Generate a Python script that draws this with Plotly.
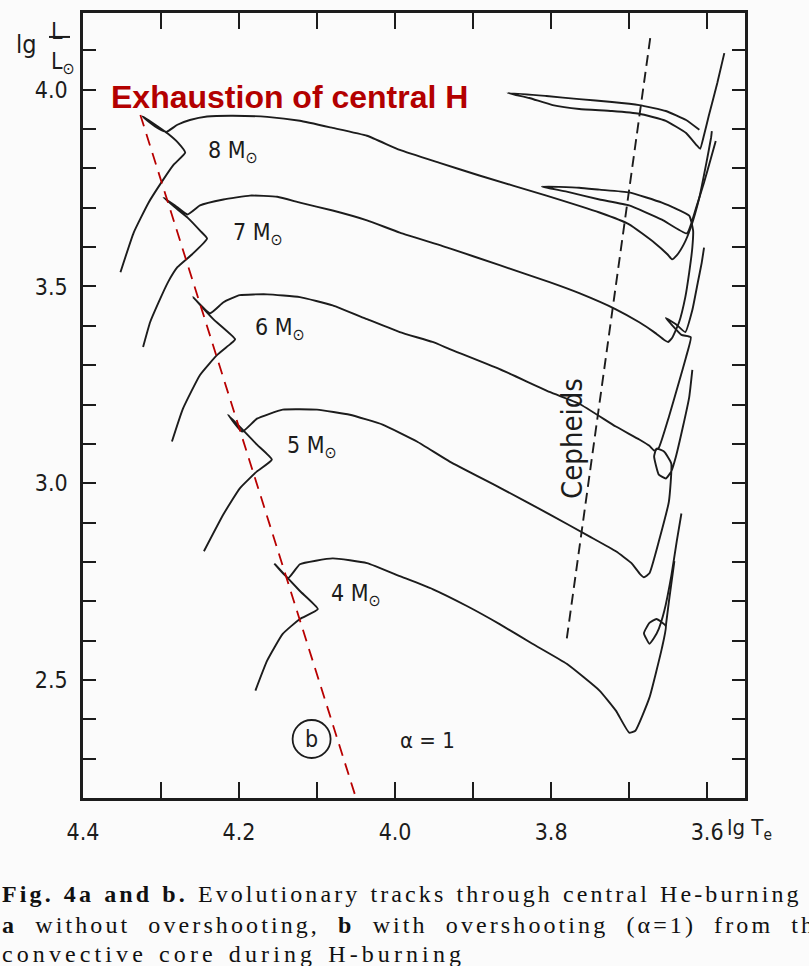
import plotly.graph_objects as go

N = None
# ---- evolutionary tracks (lg Te, lg L/Lsun); None separates drawn pieces ----
t8 = [4.352, 4.335, 4.316, 4.298, 4.284, 4.269, 4.278, 4.291, 4.305, 4.324, 4.314, 4.303, 4.293, 4.279, 4.263,
      4.241, 4.208, 4.164, 4.122, 4.080, 4.036, 3.994, 3.943, 3.892, 3.806, 3.738, 3.700, 3.668, 3.651, 3.645,
      3.639, 3.630, 3.621, 3.610, 3.601, 3.595, 3.594, N,
      3.610, 3.627, 3.653, 3.687, 3.722, 3.764, 3.806, 3.856, 3.828, 3.798, 3.764, 3.722, 3.687, 3.653, 3.627,
      3.614, 3.609, 3.604, 3.598, 3.587, 3.578]
l8 = [3.536, 3.637, 3.713, 3.769, 3.809, 3.840, 3.865, 3.888, 3.908, 3.933, 3.916, 3.901, 3.893, 3.911, 3.923,
      3.932, 3.934, 3.931, 3.921, 3.903, 3.883, 3.847, 3.814, 3.782, 3.731, 3.688, 3.658, 3.612, 3.582, 3.569,
      3.579, 3.607, 3.650, 3.726, 3.814, 3.878, 3.895, N,
      3.898, 3.923, 3.946, 3.961, 3.969, 3.976, 3.984, 3.992, 3.979, 3.961, 3.951, 3.946, 3.939, 3.921, 3.890,
      3.860, 3.850, 3.885, 3.933, 4.017, 4.093]

t7 = [4.323, 4.314, 4.303, 4.291, 4.279, 4.260, 4.241, 4.250, 4.266, 4.282, 4.297, 4.282, 4.266, 4.250, 4.220,
      4.186, 4.151, 4.122, 4.080, 4.036, 3.994, 3.930, 3.866, 3.802, 3.764, 3.717, 3.687, 3.668, 3.655, 3.650,
      3.645, 3.636, 3.628, 3.623, 3.619, 3.618, 3.623, 3.658, 3.700, 3.738, 3.764, 3.812, 3.780, 3.738, 3.700,
      3.658, 3.626, 3.614, 3.604, 3.595, 3.589]
l7 = [3.346, 3.409, 3.460, 3.511, 3.549, 3.582, 3.622, 3.642, 3.675, 3.701, 3.726, 3.706, 3.683, 3.706, 3.721,
      3.731, 3.728, 3.713, 3.693, 3.668, 3.637, 3.597, 3.554, 3.511, 3.483, 3.442, 3.409, 3.384, 3.364, 3.359,
      3.369, 3.409, 3.473, 3.536, 3.599, 3.642, 3.680, 3.713, 3.739, 3.746, 3.751, 3.754, 3.741, 3.721, 3.706,
      3.670, 3.635, 3.701, 3.764, 3.827, 3.870]

t6 = [4.286, 4.272, 4.250, 4.228, 4.211, 4.205, 4.233, 4.259, 4.237, 4.220, 4.199, 4.164, 4.122, 4.080, 4.036,
      3.994, 3.952, 3.930, 3.866, 3.802, 3.764, 3.717, 3.687, 3.674, 3.668, 3.662, 3.649, 3.636, 3.627, 3.621,
      3.633, 3.646, 3.653, 3.640, 3.628, 3.619, 3.612, 3.607, 3.604]
l6 = [3.106, 3.189, 3.275, 3.326, 3.354, 3.366, 3.417, 3.473, 3.432, 3.460, 3.478, 3.480, 3.473, 3.452, 3.417,
      3.384, 3.359, 3.341, 3.290, 3.232, 3.202, 3.144, 3.111, 3.095, 3.083, 3.090, 3.169, 3.258, 3.321, 3.371,
      3.377, 3.404, 3.420, 3.404, 3.384, 3.440, 3.510, 3.560, 3.599]

t5 = [4.245, 4.220, 4.199, 4.177, 4.158, 4.177, 4.214, 4.196, 4.177, 4.144, 4.100, 4.058, 4.016, 3.972, 3.930,
      3.866, 3.802, 3.751, 3.717, 3.697, 3.686, 3.681, 3.674, 3.662, 3.649, 3.646, 3.655, 3.665, 3.668, 3.662,
      3.653, 3.646, 3.640, 3.631, 3.623, 3.619]
l5 = [2.827, 2.921, 2.987, 3.030, 3.060, 3.098, 3.174, 3.131, 3.164, 3.187, 3.187, 3.174, 3.149, 3.106, 3.055,
      2.989, 2.921, 2.865, 2.827, 2.797, 2.769, 2.761, 2.771, 2.852, 2.954, 3.050, 3.080, 3.088, 3.068, 3.022,
      3.012, 3.030, 3.068, 3.144, 3.219, 3.288]

t4 = [4.179, 4.164, 4.144, 4.122, 4.099, 4.122, 4.154, 4.137, 4.122, 4.080, 4.036, 3.994, 3.952, 3.908, 3.866,
      3.824, 3.780, 3.738, 3.717, 3.700, 3.692, 3.674, 3.658, 3.653, 3.665, 3.674, 3.681, 3.674, 3.668, 3.662,
      3.655, 3.646, 3.639, 3.633, N, 3.653, 3.649, 3.642]
l4 = [2.473, 2.549, 2.617, 2.655, 2.680, 2.726, 2.794, 2.759, 2.794, 2.809, 2.797, 2.764, 2.731, 2.688, 2.642,
      2.592, 2.541, 2.473, 2.422, 2.366, 2.371, 2.455, 2.581, 2.637, 2.655, 2.645, 2.619, 2.592, 2.607, 2.630,
      2.675, 2.764, 2.852, 2.923, N, 2.637, 2.700, 2.802]

tracks = [(t8, l8), (t7, l7), (t6, l6), (t5, l5), (t4, l4)]

# ---- lines ----
ceph_t = [3.673, 3.780]
ceph_l = [4.131, 2.604]
hexh_t = [4.3265, 4.048]
hexh_l = [3.936, 2.187]

# ---- labels ----
mass_labels = ["8 M<sub>⊙</sub>", "7 M<sub>⊙</sub>", "6 M<sub>⊙</sub>", "5 M<sub>⊙</sub>", "4 M<sub>⊙</sub>"]
mass_t = [4.208, 4.176, 4.148, 4.106, 4.050]
mass_l = [3.842, 3.634, 3.391, 3.092, 2.715]

x_ticks = [4.4, 4.3, 4.2, 4.1, 4.0, 3.9, 3.8, 3.7, 3.6]
x_text = ["4.4", "", "4.2", "", "4.0", "", "3.8", "", "3.6"]
y_ticks = [2.3, 2.4, 2.5, 2.6, 2.7, 2.8, 2.9, 3.0, 3.1, 3.2, 3.3, 3.4, 3.5, 3.6, 3.7, 3.8, 3.9, 4.0, 4.1]
y_text = ["", "", "2.5", "", "", "", "", "3.0", "", "", "", "", "3.5", "", "", "", "", "4.0", ""]

caption = [
    "<b>Fig. 4a and b.</b> Evolutionary tracks through central He-burning",
    "<b>a</b> without overshooting, <b>b</b> with overshooting (α=1) from the",
    "convective core during H-burning",
]
caption_style = [
    "letter-spacing:3.1px;word-spacing:1px",
    "letter-spacing:3.1px;word-spacing:9px",
    "letter-spacing:4.1px;word-spacing:2px",
]

INK = "#1c1c1c"
DIN = "DejaVu Sans Condensed, Roboto Condensed, Roboto, sans-serif"

fig = go.Figure()
for t, l in tracks:
    fig.add_trace(go.Scatter(x=t, y=l, mode="lines", line=dict(color=INK, width=1.9, shape="spline", smoothing=0.4),
                             hoverinfo="skip", showlegend=False))
fig.add_trace(go.Scatter(x=ceph_t, y=ceph_l, mode="lines", line=dict(color=INK, width=1.9, dash="11px,6px"),
                         showlegend=False))
fig.add_trace(go.Scatter(x=hexh_t, y=hexh_l, mode="lines", line=dict(color="#b80000", width=1.8, dash="12px,8px"),
                         showlegend=False, cliponaxis=False))

ann = []
for txt, t, l in zip(mass_labels, mass_t, mass_l):
    ann.append(dict(x=t, y=l, text=txt, showarrow=False, xanchor="center", yanchor="middle",
                    font=dict(family=DIN, size=23, color=INK)))
ann.append(dict(x=4.135, y=3.981, text="<b>Exhaustion of central H</b>", showarrow=False,
                xanchor="center", yanchor="middle",
                font=dict(family="Liberation Sans, Arial", size=32, color="#b30000")))
ann.append(dict(x=3.773, y=3.113, text="Cepheids", textangle=-90, showarrow=False,
                xanchor="center", yanchor="middle", font=dict(family=DIN, size=29, color=INK)))
ann.append(dict(x=4.107, y=2.350, text="b", showarrow=False, xanchor="center", yanchor="middle",
                font=dict(family=DIN, size=23, color=INK)))
ann.append(dict(x=3.959, y=2.346, text="α = 1", showarrow=False, xanchor="center", yanchor="middle",
                font=dict(family=DIN, size=22, color=INK)))
# axis titles (placed in paper coordinates around the frame)
ann.append(dict(xref="paper", yref="paper", x=-0.0861, y=0.9594, text="lg", showarrow=False,
                xanchor="center", yanchor="middle", font=dict(family=DIN, size=25, color=INK)))
ann.append(dict(xref="paper", yref="paper", x=-0.0393, y=0.9772, text="L", showarrow=False,
                xanchor="center", yanchor="middle", font=dict(family=DIN, size=23, color=INK)))
ann.append(dict(xref="paper", yref="paper", x=-0.0302, y=0.9365, text="L<sub>⊙</sub>", showarrow=False,
                xanchor="center", yanchor="middle", font=dict(family=DIN, size=23, color=INK)))
ann.append(dict(xref="paper", yref="paper", x=1.007, y=-0.0406, text="lg T<sub>e</sub>", showarrow=False,
                xanchor="center", yanchor="middle", font=dict(family=DIN, size=22, color=INK)))
for i, line in enumerate(caption):
    ann.append(dict(xref="paper", yref="paper", x=-0.1254, y=[-0.1218, -0.1612, -0.1992][i], xanchor="left",
                    yanchor="middle", text='<span style="%s">%s</span>' % (caption_style[i], line),
                    showarrow=False,
                    font=dict(family="Liberation Serif, Times New Roman, serif", size=24, color="#111")))

shapes = [
    dict(type="circle", xref="x", yref="y", xsizemode="pixel", ysizemode="pixel", xanchor=4.107, yanchor=2.350,
         x0=-19, x1=19, y0=-19, y1=19, line=dict(color=INK, width=1.8)),
    dict(type="line", xref="paper", yref="paper", x0=-0.0514, x1=-0.0196, y0=0.9695, y1=0.9695,
         line=dict(color=INK, width=2)),
]

fig.update_layout(
    width=809, height=966, margin=dict(l=83, r=64, t=10, b=168),
    paper_bgcolor="#fbfbfb", plot_bgcolor="#fbfbfb",
    annotations=ann, shapes=shapes,
    xaxis=dict(range=[4.4, 3.5515], tickvals=x_ticks, ticktext=x_text, ticks="inside", ticklen=16, tickwidth=2,
               tickcolor=INK, showline=True, linecolor=INK, linewidth=2.5, mirror="ticks", showgrid=False,
               zeroline=False, tickfont=dict(family=DIN, size=23, color=INK), ticklabelstandoff=12),
    yaxis=dict(range=[2.2, 4.195], tickvals=y_ticks, ticktext=y_text, ticks="inside", ticklen=13, tickwidth=2,
               tickcolor=INK, showline=True, linecolor=INK, linewidth=2.5, mirror="ticks", showgrid=False,
               zeroline=False, tickfont=dict(family=DIN, size=23, color=INK), ticklabelstandoff=8),
)
fig.write_html("out.html")
